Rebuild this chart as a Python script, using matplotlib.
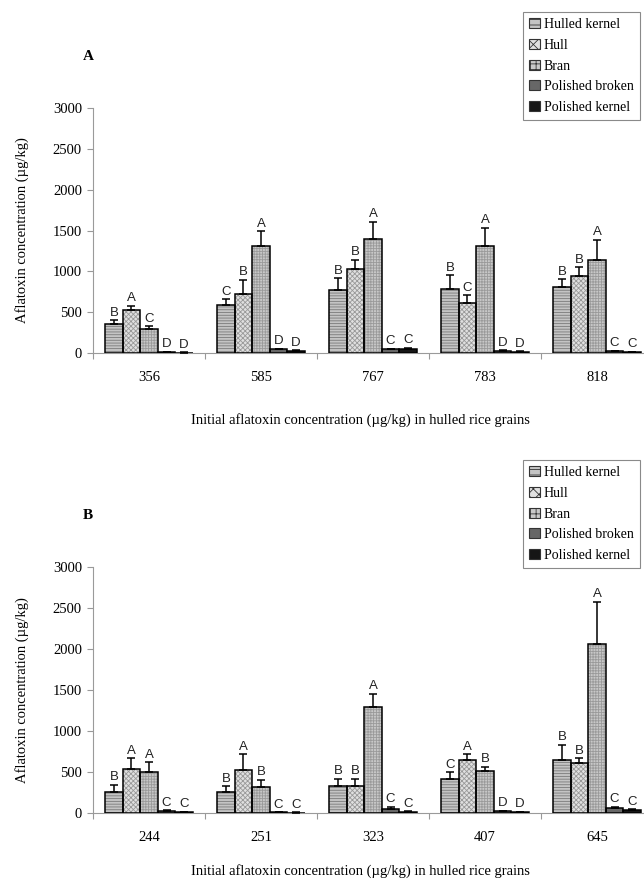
import matplotlib
matplotlib.use("Agg")
import matplotlib.pyplot as plt
import numpy as np
from matplotlib.patches import Patch

# ---------------- data ----------------
series_names = ["Hulled kernel", "Hull", "Bran", "Polished broken", "Polished kernel"]

cats_A = ["356", "585", "767", "783", "818"]
hk_A = [355, 588, 771, 787, 812]
hk_A_err = [49, 73, 143, 168, 94]
hull_A = [526, 722, 1032, 616, 938]
hull_A_err = [53, 175, 110, 94, 111]
bran_A = [298, 1310, 1395, 1310, 1142]
bran_A_err = [28, 179, 212, 224, 245]
pb_A = [10, 45, 45, 25, 25]
pb_A_err = [5, 8, 8, 8, 5]
pk_A = [5, 25, 55, 15, 15]
pk_A_err = [2, 8, 10, 5, 3]
letters_A = [["B", "A", "C", "D", "D"],
             ["C", "B", "A", "D", "D"],
             ["B", "B", "A", "C", "C"],
             ["B", "C", "A", "D", "D"],
             ["B", "B", "A", "C", "C"]]

cats_B = ["244", "251", "323", "407", "645"]
hk_B = [253, 253, 326, 420, 649]
hk_B_err = [94, 73, 90, 78, 183]
hull_B = [538, 526, 326, 645, 608]
hull_B_err = [131, 188, 90, 73, 61]
bran_B = [498, 314, 1293, 514, 2065]
bran_B_err = [118, 90, 164, 49, 514]
pb_B = [25, 10, 50, 25, 65]
pb_B_err = [10, 3, 25, 5, 12]
pk_B = [15, 5, 15, 15, 35]
pk_B_err = [3, 2, 5, 3, 8]
letters_B = [["B", "A", "A", "C", "C"],
             ["B", "A", "B", "C", "C"],
             ["B", "B", "A", "C", "C"],
             ["C", "A", "B", "D", "D"],
             ["B", "B", "A", "C", "C"]]

y_ticks = [0, 500, 1000, 1500, 2000, 2500, 3000]

# ---------------- style ----------------
SERIF = ["Liberation Serif", "DejaVu Serif"]
SANS = ["Liberation Sans", "DejaVu Sans"]
plt.rcParams["hatch.linewidth"] = 0.6

styles = [
    dict(fc="#c4c4c4", hatch="------", hc="#7a7a7a"),
    dict(fc="#e0e0e0", hatch="xxxxxxx", hc="#999999"),
    dict(fc="#c8c8c8", hatch="++++++", hc="#9a9a9a"),
    dict(fc="#676767", hatch=None, hc=None),
    dict(fc="#161616", hatch=None, hc=None),
]

fig = plt.figure(figsize=(6.44, 8.82), dpi=100)


def px_axes(left, top, right, bottom):
    return [left / 644, 1 - bottom / 882, (right - left) / 644, (bottom - top) / 882]


def draw_panel(ax, cats, vals, errs, letters, panel_letter, legend_top, xlabel_y):
    n = len(cats)
    x = np.arange(n)
    bw = 0.157
    for i in range(5):
        xi = x + (i - 2) * bw
        st = styles[i]
        if st["hatch"]:
            ax.bar(xi, vals[i], width=bw, color=st["fc"], hatch=st["hatch"],
                   edgecolor=st["hc"], linewidth=0, zorder=2)
        else:
            ax.bar(xi, vals[i], width=bw, color=st["fc"], linewidth=0, zorder=2)
        ax.bar(xi, vals[i], width=bw, fill=False, edgecolor="black",
               linewidth=1.1, zorder=3)
        ax.errorbar(xi, vals[i], yerr=[np.zeros(n), errs[i]], fmt="none",
                    ecolor="black", elinewidth=1.1, capsize=3.2, capthick=1.1,
                    zorder=4)
        for j in range(n):
            ax.annotate(letters[j][i], (xi[j], vals[i][j] + errs[i][j]),
                        xytext=(0, 1.0), textcoords="offset points",
                        ha="center", va="bottom", fontsize=9.5,
                        family=SANS, color="#222222", zorder=5)

    ax.set_xlim(-0.5, n - 0.5)
    ax.set_ylim(0, 3000)
    ax.set_yticks(y_ticks)
    ax.set_yticklabels([str(v) for v in y_ticks], family=SERIF, fontsize=10.5)
    ax.set_xticks(np.arange(n + 1) - 0.5)
    ax.set_xticklabels([])
    ax.set_xticks(x, minor=True)
    ax.set_xticklabels(cats, minor=True, family=SERIF, fontsize=10.5)
    ax.tick_params(axis="x", which="minor", length=0, pad=13)
    ax.tick_params(axis="x", which="major", length=4, direction="out",
                   color="#999999", width=0.8)
    ax.tick_params(axis="y", length=4, direction="out", color="#999999",
                   width=0.8, pad=4)
    for s in ["top", "right"]:
        ax.spines[s].set_visible(False)
    for s in ["left", "bottom"]:
        ax.spines[s].set_color("#9a9a9a")
        ax.spines[s].set_linewidth(0.8)
    ax.set_xlabel("Initial aflatoxin concentration (\u00b5g/kg) in hulled rice grains",
                  family=SERIF, fontsize=10.5)
    ax.xaxis.set_label_coords((360 - 93) / 560, xlabel_y)
    ax.xaxis.label.set_va("center")
    ax.set_ylabel("Aflatoxin concentration (\u00b5g/kg)", family=SERIF,
                  fontsize=10.5, labelpad=17)
    ax.text(-0.009, 1.21, panel_letter, transform=ax.transAxes, family=SERIF,
            fontsize=11, fontweight="bold", ha="center", va="center")

    handles = []
    for st in styles:
        if st["hatch"]:
            handles.append(Patch(facecolor=st["fc"], hatch=st["hatch"][:3],
                                 edgecolor="#333333", linewidth=0.8))
        else:
            handles.append(Patch(facecolor=st["fc"], edgecolor="#333333",
                                 linewidth=0.8))
    leg = fig.legend(handles, series_names, loc="upper left",
                     bbox_to_anchor=(523 / 644, 1 - legend_top / 882),
                     prop={"family": SERIF, "size": 10}, frameon=True,
                     fancybox=False, edgecolor="#8a8a8a", framealpha=1,
                     handlelength=0.75, handleheight=0.75, handletextpad=0.3,
                     labelspacing=0.55, borderpad=0.45, borderaxespad=0)
    leg.get_frame().set_linewidth(0.8)


axA = fig.add_axes(px_axes(93, 108, 653, 353))
draw_panel(axA, cats_A,
           [hk_A, hull_A, bran_A, pb_A, pk_A],
           [hk_A_err, hull_A_err, bran_A_err, pb_A_err, pk_A_err],
           letters_A, "A", 12, -67 / 245)

axB = fig.add_axes(px_axes(93, 567, 653, 813))
draw_panel(axB, cats_B,
           [hk_B, hull_B, bran_B, pb_B, pk_B],
           [hk_B_err, hull_B_err, bran_B_err, pb_B_err, pk_B_err],
           letters_B, "B", 460, -58 / 246)

fig.savefig("out.png", dpi=100)
